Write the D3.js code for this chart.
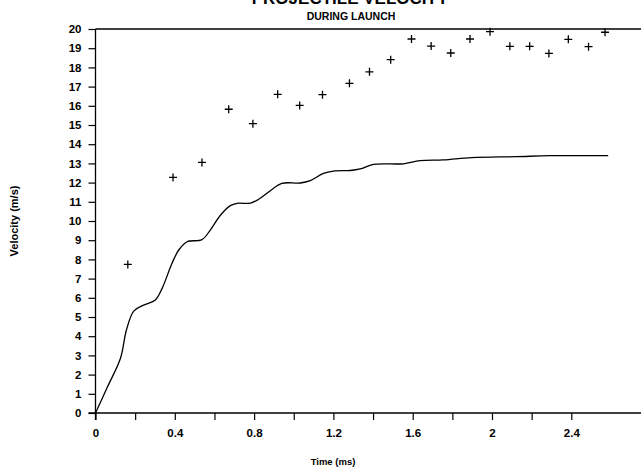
<!DOCTYPE html>
<html>
<head>
<meta charset="utf-8">
<script src="https://cdn.jsdelivr.net/npm/d3@7"></script>
<style>
  body { margin: 0; background: #fff; }
  svg { display: block; }
  text { font-family: "Liberation Sans Narrow", "Liberation Sans", Arial, sans-serif; font-weight: bold; fill: #000; }
</style>
</head>
<body>
<div id="chart"></div>
<script>
// measured velocity (crosses)
const measuredTime = [0.163, 0.391, 0.537, 0.672, 0.794, 0.919, 1.03, 1.145, 1.281, 1.382,
  1.489, 1.594, 1.693, 1.792, 1.889, 1.99, 2.09, 2.19, 2.287, 2.385, 2.487, 2.57];
const measuredVel = [7.74, 12.27, 13.05, 15.82, 15.07, 16.6, 16.02, 16.58, 17.17, 17.77,
  18.4, 19.48, 19.11, 18.75, 19.48, 19.86, 19.1, 19.1, 18.73, 19.46, 19.08, 19.83];

// computed velocity (solid line)
const modelTime = [0, 0.06, 0.126, 0.156, 0.193, 0.243, 0.302, 0.336, 0.386, 0.42, 0.462, 0.537,
  0.579, 0.63, 0.68, 0.714, 0.781, 0.823, 0.882, 0.94, 1.033, 1.083, 1.15, 1.2, 1.285,
  1.335, 1.402, 1.553, 1.637, 1.755, 1.898, 2.124, 2.292, 2.586];
const modelVel = [0, 1.35, 2.85, 4.32, 5.31, 5.62, 5.89, 6.49, 7.8, 8.49, 8.92, 9.03,
  9.53, 10.3, 10.8, 10.92, 10.93, 11.13, 11.58, 11.96, 11.98, 12.1, 12.48, 12.6, 12.63,
  12.71, 12.95, 12.98, 13.14, 13.18, 13.3, 13.35, 13.4, 13.4];

const xTicks = d3.range(0, 2.41, 0.2).map((d) => +d.toFixed(1));
const xTickLabels = ["0", "", "0.4", "", "0.8", "", "1.2", "", "1.6", "", "2", "", "2.4"];
const yTicks = d3.range(0, 21);

const width = 641, height = 469;
const plotLeft = 95.5, plotRight = 641, plotTop = 29, plotBottom = 413;

const svg = d3.select("#chart").append("svg")
  .attr("width", width)
  .attr("height", height);

const x = d3.scaleLinear().domain([0, 2.4]).range([plotLeft, 571.3]);
const y = d3.scaleLinear().domain([0, 20]).range([plotBottom, plotTop]);

// titles (main title is cut off by the top edge, as in the original)
svg.append("text")
  .attr("x", 350).attr("y", 4)
  .attr("text-anchor", "middle")
  .attr("font-size", 17)
  .text("PROJECTILE VELOCITY");

svg.append("text")
  .attr("x", 351).attr("y", 19.5)
  .attr("text-anchor", "middle")
  .attr("font-size", 10.5)
  .text("DURING LAUNCH");

// frame line at the top
svg.append("line")
  .attr("x1", plotLeft).attr("x2", plotRight)
  .attr("y1", plotTop).attr("y2", plotTop)
  .attr("stroke", "#000").attr("stroke-width", 1.3);

// x axis
const xAxis = svg.append("g")
  .attr("transform", `translate(0,${plotBottom})`)
  .call(d3.axisBottom(x).tickValues(xTicks).tickSize(7).tickPadding(9)
    .tickFormat((d, i) => xTickLabels[i]));
xAxis.select(".domain").remove();
xAxis.append("line")
  .attr("x1", plotLeft - 7).attr("x2", plotRight)
  .attr("stroke", "#000").attr("stroke-width", 1.3);
xAxis.selectAll(".tick line").attr("stroke-width", 1.2);
xAxis.selectAll(".tick text").attr("font-size", 11.5);

// y axis
const yAxis = svg.append("g")
  .attr("transform", `translate(${plotLeft},0)`)
  .call(d3.axisLeft(y).tickValues(yTicks).tickSize(7).tickPadding(7));
yAxis.select(".domain").remove();
yAxis.append("line")
  .attr("y1", plotTop).attr("y2", plotBottom + 7)
  .attr("stroke", "#000").attr("stroke-width", 1.3);
yAxis.selectAll(".tick line").attr("stroke-width", 1.2);
yAxis.selectAll(".tick text").attr("font-size", 11.5);

// axis titles
svg.append("text")
  .attr("x", 333).attr("y", 465)
  .attr("text-anchor", "middle")
  .attr("font-size", 9.5)
  .text("Time (ms)");

svg.append("text")
  .attr("transform", "translate(18,221) rotate(-90)")
  .attr("text-anchor", "middle")
  .attr("font-size", 11)
  .text("Velocity (m/s)");

// model line
const line = d3.line()
  .x((d) => x(d[0]))
  .y((d) => y(d[1]))
  .curve(d3.curveCatmullRom.alpha(0.5));

svg.append("path")
  .datum(d3.zip(modelTime, modelVel))
  .attr("fill", "none")
  .attr("stroke", "#000")
  .attr("stroke-width", 1.3)
  .attr("d", line);

// measured crosses
const s = 4;
svg.append("g")
  .selectAll("path")
  .data(d3.zip(measuredTime, measuredVel))
  .join("path")
  .attr("fill", "none")
  .attr("stroke", "#000")
  .attr("stroke-width", 1.3)
  .attr("d", (d) => {
    const cx = x(d[0]), cy = y(d[1]);
    return `M${cx - s},${cy}H${cx + s}M${cx},${cy - s}V${cy + s}`;
  });
</script>
</body>
</html>
